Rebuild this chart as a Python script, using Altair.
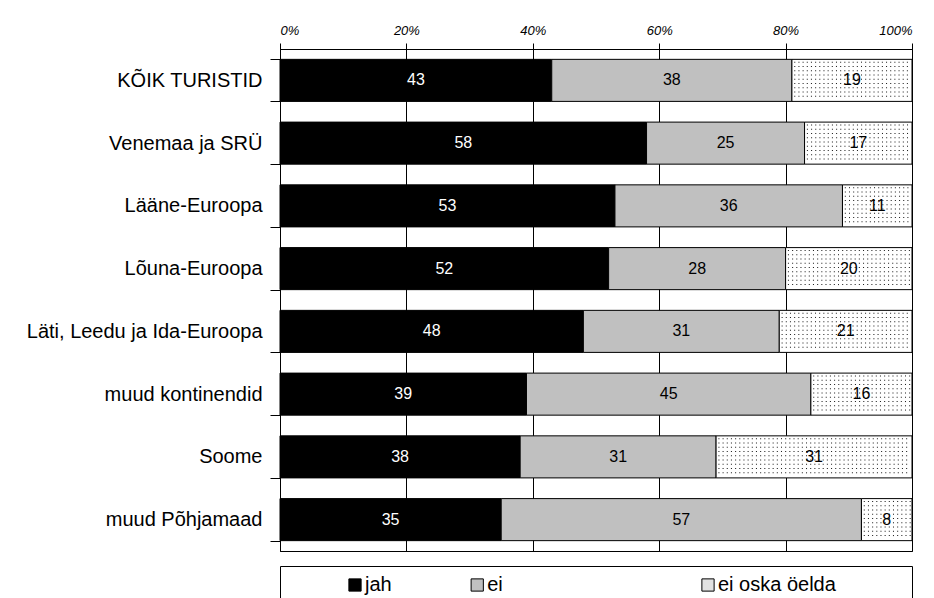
import altair as alt
import pandas as pd

FONT = "Liberation Sans"

categories = [
    "KÕIK TURISTID",
    "Venemaa ja SRÜ",
    "Lääne-Euroopa",
    "Lõuna-Euroopa",
    "Läti, Leedu ja Ida-Euroopa",
    "muud kontinendid",
    "Soome",
    "muud Põhjamaad",
]
series = ["jah", "ei", "ei oska öelda"]
jah = [43, 58, 53, 52, 48, 39, 38, 35]
ei = [38, 25, 36, 28, 31, 45, 31, 57]
ei_oska = [19, 17, 11, 20, 21, 16, 31, 8]
x_ticks = [0, 20, 40, 60, 80, 100]

rows = []
for i, c in enumerate(categories):
    vals = [jah[i], ei[i], ei_oska[i]]
    start = 0
    for k, (s, v) in enumerate(zip(series, vals)):
        rows.append(dict(cat=c, idx=i, series=s, sidx=k, value=v,
                         start=start, end=start + v, mid=start + v / 2))
        start += v
df = pd.DataFrame(rows)

W, H = 632, 502
n = len(categories)
PI = 0.33

yscale = alt.Scale(domain=categories, paddingInner=PI, paddingOuter=PI / 2)
xscale = alt.Scale(domain=[0, 100], nice=False, zero=True)

y_axis = alt.Axis(tickBand="extent", tickSize=10, labelPadding=8,
                  labelFontSize=20, labelFont=FONT, labelColor="black",
                  domainColor="black", tickColor="black", grid=False,
                  labelLimit=400)
x_axis = alt.Axis(orient="top", values=x_ticks, labelExpr="datum.value + '%'",
                  grid=True, gridColor="black", gridWidth=1, gridOpacity=1,
                  tickSize=6, labelPadding=6, labelFontSize=13, labelFont=FONT,
                  labelFontStyle="italic", labelColor="black",
                  domainColor="black", tickColor="black", title=None)

color_scale = alt.Scale(domain=series, range=["#000000", "#c0c0c0", "#ffffff"])

bars = alt.Chart(df).mark_bar(stroke="black", strokeWidth=1).encode(
    y=alt.Y("cat:N", sort=categories, scale=yscale, title=None, axis=y_axis),
    x=alt.X("start:Q", scale=xscale, axis=x_axis, title=None),
    x2="end:Q",
    color=alt.Color("series:N", scale=color_scale, legend=None),
)

dots = alt.Chart(df[df["series"] == "ei oska öelda"]).transform_calculate(
    xs="sequence(datum.start + 0.45, 99.8, 0.66)",
    ys="sequence(datum.idx + 0.5 - 0.29, datum.idx + 0.5 + 0.3, 0.068)",
).transform_flatten(["xs"]).transform_flatten(["ys"]).mark_square(
    size=1.1, color="#222222", opacity=1
).encode(
    x=alt.X("xs:Q", scale=xscale, axis=x_axis, title=None),
    y=alt.Y("ys:Q", scale=alt.Scale(domain=[0, n], reverse=True, nice=False, zero=False),
            axis=None),
)

text = alt.Chart(df).mark_text(fontSize=16, font=FONT).encode(
    y=alt.Y("cat:N", sort=categories, scale=yscale, title=None, axis=None),
    x=alt.X("mid:Q", scale=xscale, axis=x_axis, title=None),
    text=alt.Text("value:Q"),
    color=alt.condition(alt.datum.series == "jah", alt.value("white"), alt.value("black")),
)

main = alt.layer(bars, dots, text).resolve_scale(y="independent").properties(width=W, height=H)

leg_df = pd.DataFrame({"series": series, "li": list(range(len(series)))})
leg_x = alt.X("li:Q", scale=alt.Scale(type="pow", exponent=1.53, domain=[0, 2],
                                      range=[75, 428]), axis=None)
sym = alt.Chart(leg_df).mark_square(size=150, stroke="black", strokeWidth=1, opacity=1).encode(
    x=leg_x,
    fill=alt.Fill("series:N", scale=alt.Scale(domain=series,
                                              range=["#000000", "#c0c0c0", "#e2e2e2"]),
                  legend=None),
)
lab = alt.Chart(leg_df).mark_text(align="left", dx=10, fontSize=20, font=FONT,
                                  color="black").encode(x=leg_x, text="series:N")
legend_chart = alt.layer(sym, lab).properties(width=W, height=38)

chart = alt.vconcat(main, legend_chart, spacing=13).resolve_scale(
    color="independent", fill="independent", x="independent"
).configure_view(stroke="black", strokeWidth=1).properties(
    padding={"left": 25, "top": 23, "right": 5, "bottom": 0},
    background="white",
)

chart.save("out.html", embed_options={"renderer": "svg", "actions": False})
